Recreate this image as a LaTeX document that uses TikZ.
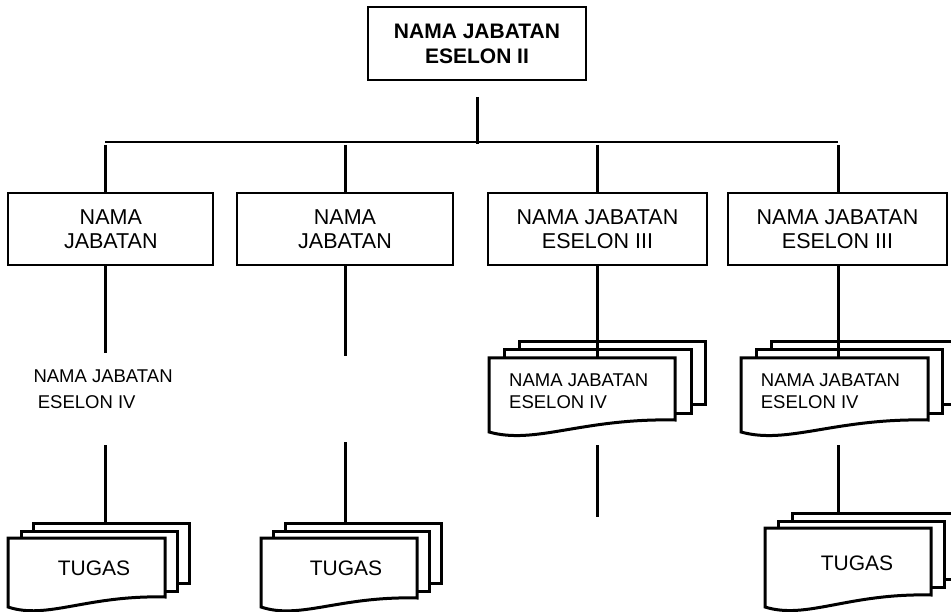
\documentclass[tikz,border=0pt]{standalone}
\usepackage{fontspec}
\setmainfont{Liberation Sans}
\newcommand\frontdoc[5]{%
  \draw[pageline] (#1,#2) -- (#3,#2) -- (#3,#4)
    .. controls ({#1+0.5*(#3-#1)},{#4-2}) and ({#1+0.25*(#3-#1)},{#5+13}) .. (#1,#5) -- cycle;}
\begin{document}
\begin{tikzpicture}[x=1pt,y=-1pt,
  box/.style={draw,line width=2pt,fill=white,align=center,inner sep=0pt,
    minimum height=72pt,font=\fontsize{21.5}{24.3}\selectfont},
  conn/.style={line width=3pt},
  hline/.style={line width=1.7pt},
  pageline/.style={draw,line width=3pt,fill=white,line join=miter},
  small/.style={font=\fontsize{18.5}{26}\selectfont,align=left,inner sep=0pt,anchor=north west},
  smalldoc/.style={font=\fontsize{18.5}{22.7}\selectfont,align=left,inner sep=0pt,anchor=north west},
  tugas/.style={font=\fontsize{21}{24}\selectfont,inner sep=0pt}]
\useasboundingbox (0,0) rectangle (951,612);
\fill[white] (0,0) rectangle (951,612);

% top box
\node[box,minimum width=218pt,minimum height=73pt,
  font=\bfseries\fontsize{21}{25}\selectfont] (top) at (477,43.5) {NAMA JABATAN\\ESELON II};

% level 2 boxes
\node[box,minimum width=205pt] (b1) at (110.8,229) {NAMA\\JABATAN};
\node[box,minimum width=216.6pt] (b2) at (345,229) {NAMA\\JABATAN};
\node[box,minimum width=218.4pt] (b3) at (597.5,229) {NAMA JABATAN\\ESELON III};
\node[box,minimum width=218.4pt] (b4) at (837.5,229) {NAMA JABATAN\\ESELON III};

% trunk
\coordinate (tc) at (477,97);
\coordinate (tm) at (477,144);
\coordinate (hl) at (105,142);
\coordinate (hr) at (838,142);
\draw[hline] (hl) -- (hr);
\draw[conn] (tc) -- (tm);

\coordinate (j1) at (105,145);
\coordinate (j2) at (345,145);
\coordinate (j3) at (597,145);
\coordinate (j4) at (838,145);
\draw[conn] (j1) -- (j1 |- b1.north);
\draw[conn] (j2) -- (j2 |- b2.north);
\draw[conn] (j3) -- (j3 |- b3.north);
\draw[conn] (j4) -- (j4 |- b4.north);

% column 1
\node[small] (t1) at (33.3,370) {NAMA JABATAN\\\hspace*{4.4pt}ESELON IV};
\coordinate (e1) at (105,353);
\coordinate (f1) at (105,445);
\coordinate (s1) at (105,523);
\draw[conn] (b1.south -| j1) -- (e1);
\draw[pageline] (33,523) rectangle (189,583);
\draw[pageline] (21,531) rectangle (177,591);
\frontdoc{8}{538}{165}{597}{607}
\node[tugas] (g1) at (94,568) {TUGAS};
\draw[conn] (f1) -- (s1);

% column 2
\coordinate (e2) at (345,356);
\coordinate (f2) at (345,442);
\coordinate (s2) at (345,523);
\draw[conn] (b2.south -| j2) -- (e2);
\draw[pageline] (285,523) rectangle (441,583);
\draw[pageline] (273,531) rectangle (429,591);
\frontdoc{261}{538}{417}{598}{607}
\node[tugas] (g2) at (346,568) {TUGAS};
\draw[conn] (f2) -- (s2);

% column 3
\draw[pageline] (519,342) rectangle (705,405);
\draw[pageline] (504,350) rectangle (691,413);
\frontdoc{489}{358}{675}{420}{432}
\node[smalldoc] (t3) at (509,373.3) {NAMA JABATAN\\ESELON IV};
\coordinate (d3) at (597,358);
\coordinate (f3) at (597,445);
\coordinate (s3) at (597,517);
\draw[conn] (b3.south -| j3) -- (d3);
\draw[conn] (f3) -- (s3);

% column 4
\draw[pageline] (771,342) rectangle (957,405);
\draw[pageline] (756,350) rectangle (942,413);
\frontdoc{741}{358}{928}{420}{432}
\node[smalldoc] (t4) at (760.7,373.3) {NAMA JABATAN\\ESELON IV};
\coordinate (d4) at (838,358);
\coordinate (f4) at (838,445);
\coordinate (s4) at (838,513);
\draw[conn] (b4.south -| j4) -- (d4);
\draw[pageline] (792,513) rectangle (958,579);
\draw[pageline] (778,521) rectangle (944,587);
\frontdoc{765}{528}{931}{595}{607}
\node[tugas] (g4) at (857,563) {TUGAS};
\draw[conn] (f4) -- (s4);
\end{tikzpicture}
\end{document}
